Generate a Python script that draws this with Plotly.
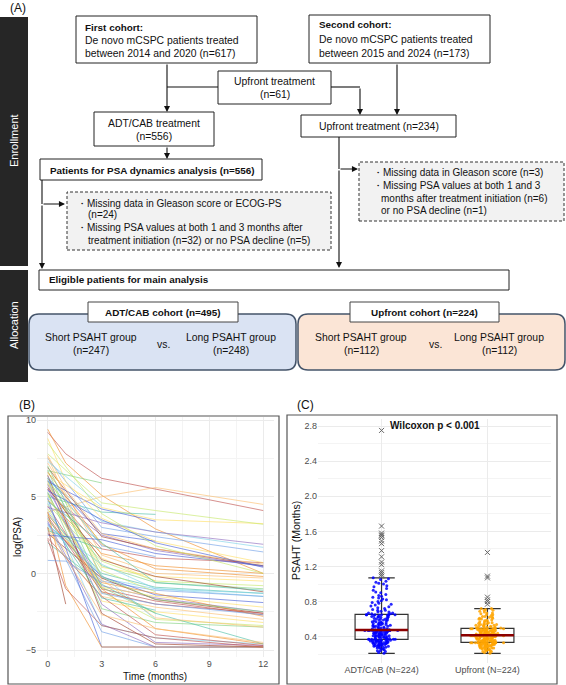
import numpy as np
import plotly.graph_objects as go

W, H = 566, 685
FONT = "Arial, Liberation Sans, sans-serif"

# ── Panel B: log(PSA) trajectories (time in months) ─────────────────────────
PSA_TIMES = [
    [0, 1, 3, 6, 12], [0, 1, 3, 6, 12], [0, 3, 6, 12], [0, 3, 6, 12], [0, 3, 6, 12],
    [0, 3], [0, 3, 6], [0, 3, 6, 12], [0, 3, 6, 12], [0, 3, 6],
    [0, 3, 6, 12], [0, 3, 6, 12], [0, 3, 6, 12], [0, 3, 6, 12], [0, 3, 6, 12],
    [0, 3, 6, 12], [0, 3, 6, 12], [0, 3, 6, 12], [0, 3, 6, 12], [0, 3, 6, 12],
    [0, 3, 6, 12], [0, 3, 6, 12], [0, 3, 6, 12], [0, 3, 6, 12], [0, 3, 6, 12],
    [0, 3, 6, 12], [0, 3, 6, 12], [0, 3, 6, 12], [0, 3, 6, 12], [0, 3, 6, 12],
    [0, 3, 6, 12], [0, 3, 6, 12], [0, 3, 6, 12], [0, 3, 6, 12], [0, 3, 6, 12],
    [0, 3, 6, 12], [0, 3, 6, 12], [0, 3, 6, 12], [0, 3, 6, 12], [0, 3, 6],
    [0, 3, 6], [0, 3, 6], [0, 3, 6], [0, 3, 6], [0, 3, 6],
    [0, 3, 6], [0, 3, 6], [0, 1], [0, 1, 3, 6, 12], [0, 1, 3, 6, 12],
    [0, 1, 3, 6, 12], [0, 1, 3, 6, 12], [0, 3], [0, 3], [0, 3],
    [0, 3], [0, 1, 3], [0, 3, 6, 12], [0, 3, 6, 12], [0, 3, 6, 12],
    [0, 3, 6, 12], [0, 3, 6, 12], [0, 3, 6, 12], [0, 3, 6, 12], [0, 3, 6, 12],
    [0, 3, 6, 12], [0, 3, 6, 12], [0, 3, 6, 12], [0, 3, 6, 12], [0, 3, 6, 12],
]
PSA_LOG = [
    [9.2, 7.8, 6.2, 5.5, 4.1], [9.4, 7.2, 5.1, 2.9, 0.0], [4.0, 5.0, 5.6, 4.5], [6.5, 4.3, 3.5, 3.25], [7.8, 4.6, 4.1, 3.2],
    [6.7, 5.9], [5.0, 4.0, 3.85], [6.0, 3.4, 2.7, 1.7], [7.5, 3.0, 2.4, 1.4], [6.2, 2.6, 2.1],
    [5.2, 2.5, 1.5, 0.45], [6.9, 2.4, 1.6, 0.5], [5.5, 1.6, 1.0, 0.7], [4.8, 1.3, 0.5, 0.0], [7.2, 1.2, 0.0, -0.3],
    [5.8, 0.4, -0.2, -0.5], [4.5, 0.8, -0.5, -0.8], [6.2, 0.5, -0.6, -1.0], [3.8, 0.0, -0.9, -1.3], [5.0, -0.3, -1.0, -1.5],
    [4.0, -0.5, -1.1, -1.5], [3.2, -0.2, -1.4, -1.9], [5.5, -0.8, -1.6, -2.5], [2.6, -0.3, -1.7, -2.6], [4.4, -1.0, -1.8, -2.7],
    [3.5, -0.6, -1.3, -2.8], [6.0, -1.5, -2.2, -3.0], [3.0, -1.8, -2.5, -3.2], [4.2, -1.2, -3.0, -3.4], [5.3, -2.3, -3.2, -3.5],
    [2.0, -0.7, -2.6, -4.6], [4.6, -3.4, -4.2, -4.6], [3.3, -3.8, -4.8, -4.8], [4.9, -4.8, -4.8, -4.8], [5.8, -2.0, -4.5, -4.7],
    [6.4, -2.6, -4.6, -4.8], [2.3, -1.5, -4.0, -4.7], [3.9, -1.0, -3.6, -4.6], [7.6, -0.4, -2.9, -3.5], [4.8, 1.0, -0.5],
    [5.9, 0.2, -1.2], [6.7, -0.9, -2.6], [3.6, -1.6, -2.4], [3.0, -0.1, -3.0], [6.3, 1.8, 1.1],
    [6.0, 4.2, 3.4], [3.4, -3.3, -4.8], [3.0, -2.0], [2.2, -1.0, -3.4, -4.2, -4.8], [4.0, -0.8, -4.8, -4.8, -4.8],
    [7.7, 5.5, 2.6, 1.6, 0.6], [8.8, 6.0, 3.6, 2.1, 0.7], [6.0, 2.0], [5.2, -1.0], [2.8, 1.6],
    [7.3, 4.4], [0.85, 0.8, -0.6], [2.5, 2.2, 1.3, 0.5], [4.3, 3.3, 2.7, 1.9], [5.6, 0.9, -0.2, -1.2],
    [3.7, -1.2, -2.0, -2.6], [6.6, 1.9, 0.3, -0.2], [2.9, -2.7, -3.6, -4.5], [5.1, -0.9, -1.5, -2.2], [8.5, 3.9, 1.8, 0.0],
    [7.0, -0.2, -1.7, -2.5], [4.7, 2.0, -0.6, -1.1], [3.1, 0.6, -1.0, -1.3], [6.1, -1.3, -2.0, -2.7], [5.4, 3.5, 2.0, 0.4],
]
B_XTICKS = [0, 3, 6, 9, 12]
B_YTICKS = [-5, 0, 5, 10]

# ── Panel C: PSAHT (months) ──────────────────────────────────────────────────
C_LABELS = ["ADT/CAB (N=224)", "Upfront (N=224)"]
ADT_INLIERS = [
    0.21, 0.22, 0.23, 0.24, 0.24, 0.25, 0.26, 0.26, 0.27, 0.27,
    0.28, 0.28, 0.28, 0.29, 0.29, 0.29, 0.30, 0.30, 0.30, 0.30,
    0.31, 0.31, 0.31, 0.31, 0.32, 0.32, 0.32, 0.32, 0.32, 0.33,
    0.33, 0.33, 0.33, 0.33, 0.34, 0.34, 0.34, 0.34, 0.34, 0.35,
    0.35, 0.35, 0.35, 0.35, 0.35, 0.36, 0.36, 0.36, 0.36, 0.36,
    0.36, 0.37, 0.37, 0.37, 0.37, 0.37,
    0.37, 0.37, 0.38, 0.38, 0.38, 0.38, 0.39, 0.39, 0.39, 0.39,
    0.40, 0.40, 0.40, 0.40, 0.40, 0.41, 0.41, 0.41, 0.41, 0.41,
    0.42, 0.42, 0.42, 0.42, 0.43, 0.43, 0.43, 0.43, 0.43, 0.44,
    0.44, 0.44, 0.44, 0.45, 0.45, 0.45, 0.45, 0.45, 0.46, 0.46,
    0.46, 0.46, 0.46, 0.47, 0.47, 0.47, 0.47, 0.47, 0.47, 0.47,
    0.47, 0.47, 0.47, 0.47, 0.47, 0.47,
    0.48, 0.48, 0.48, 0.49, 0.49, 0.49, 0.50, 0.50, 0.50, 0.51,
    0.51, 0.51, 0.52, 0.52, 0.52, 0.53, 0.53, 0.53, 0.54, 0.54,
    0.54, 0.55, 0.55, 0.55, 0.56, 0.56, 0.56, 0.57, 0.57, 0.57,
    0.58, 0.58, 0.59, 0.59, 0.59, 0.60, 0.60, 0.60, 0.61, 0.61,
    0.62, 0.62, 0.62, 0.63, 0.63, 0.63, 0.64, 0.64, 0.64, 0.65,
    0.65, 0.65, 0.65, 0.65, 0.65, 0.65,
    0.66, 0.66, 0.67, 0.67, 0.68, 0.68, 0.69, 0.70, 0.70, 0.71,
    0.72, 0.73, 0.74, 0.75, 0.76, 0.77, 0.78, 0.79, 0.80, 0.81,
    0.82, 0.83, 0.84, 0.85, 0.86, 0.87, 0.88, 0.90, 0.91, 0.93,
    0.95, 0.97, 0.98, 1.00, 1.01, 1.02, 1.03, 1.05, 1.06, 1.07,
]
ADT_OUTLIERS = [1.09, 1.11, 1.13, 1.15, 1.22, 1.25, 1.31, 1.38,
                1.46, 1.49, 1.53, 1.55, 1.56, 1.58, 1.66, 2.75]
UP_INLIERS = [
    0.21, 0.22, 0.23, 0.23, 0.24, 0.24, 0.25, 0.25, 0.25, 0.26,
    0.26, 0.26, 0.27, 0.27, 0.27, 0.27, 0.28, 0.28, 0.28, 0.28,
    0.29, 0.29, 0.29, 0.29, 0.29, 0.30, 0.30, 0.30, 0.30, 0.30,
    0.31, 0.31, 0.31, 0.31, 0.31, 0.31, 0.32, 0.32, 0.32, 0.32,
    0.32, 0.32, 0.32, 0.33, 0.33, 0.33, 0.33, 0.33, 0.33, 0.33,
    0.33, 0.33, 0.33, 0.33, 0.33, 0.33,
    0.34, 0.34, 0.34, 0.34, 0.34, 0.35, 0.35, 0.35, 0.35, 0.35,
    0.35, 0.36, 0.36, 0.36, 0.36, 0.36, 0.36, 0.37, 0.37, 0.37,
    0.37, 0.37, 0.37, 0.38, 0.38, 0.38, 0.38, 0.38, 0.38, 0.39,
    0.39, 0.39, 0.39, 0.39, 0.39, 0.40, 0.40, 0.40, 0.40, 0.40,
    0.40, 0.41, 0.41, 0.41, 0.41, 0.41, 0.41, 0.41, 0.41, 0.41,
    0.41, 0.41, 0.41, 0.41, 0.41, 0.41,
    0.42, 0.42, 0.42, 0.42, 0.42, 0.42, 0.42, 0.43, 0.43, 0.43,
    0.43, 0.43, 0.43, 0.43, 0.44, 0.44, 0.44, 0.44, 0.44, 0.44,
    0.44, 0.45, 0.45, 0.45, 0.45, 0.45, 0.45, 0.46, 0.46, 0.46,
    0.46, 0.46, 0.46, 0.47, 0.47, 0.47, 0.47, 0.47, 0.47, 0.48,
    0.48, 0.48, 0.48, 0.48, 0.48, 0.49, 0.49, 0.49, 0.49, 0.49,
    0.49, 0.49, 0.49, 0.49, 0.49, 0.49,
    0.50, 0.50, 0.50, 0.50, 0.51, 0.51, 0.51, 0.51, 0.52, 0.52,
    0.52, 0.53, 0.53, 0.53, 0.54, 0.54, 0.54, 0.55, 0.55, 0.55,
    0.56, 0.56, 0.57, 0.57, 0.58, 0.58, 0.59, 0.59, 0.60, 0.60,
    0.61, 0.61, 0.62, 0.62, 0.63, 0.63, 0.64, 0.65, 0.65, 0.66,
    0.67, 0.67, 0.68, 0.69, 0.70, 0.70, 0.71, 0.72, 0.72,
]
UP_OUTLIERS = [0.77, 0.80, 0.82, 0.85, 1.07, 1.09, 1.36]
C_YTICKS = [0.4, 0.8, 1.2, 1.6, 2.0, 2.4, 2.8]
C_YMINOR = [0.2, 0.6, 1.0, 1.4, 1.8, 2.2, 2.6]

# ── styles ───────────────────────────────────────────────────────────────────
LINE_PALETTE = ["#c0504d", "#f28e2b", "#fdbf6f", "#ffe066", "#c7e96b", "#7fd17f",
                "#4fc1a8", "#7fd3ea", "#6f9fe8", "#4a62d8", "#8e6cc0", "#a0402a"]
GRID_MAJOR = "#ebebeb"
GRID_MINOR = "#f4f4f4"
TICK_COLOR = "#4d4d4d"
SIDEBAR = "#262626"
BLUE_FILL = "#dae3f3"
PEACH_FILL = "#fbe5d6"
ROUND_LINE = "#44546a"
DASH_FILL = "#f2f2f2"
FS = 10.4    # regular flow-chart text
FSB = 9.9    # bold flow-chart text
FSD = 10     # dashed-box text


def px(x):
    return x / W


def py(y):
    return 1 - y / H


shapes = []
annotations = []


def rect(x0, y0, x1, y1, fill="white", color="#222", width=1, dash=None):
    shapes.append(dict(type="rect", xref="paper", yref="paper",
                       x0=px(x0), x1=px(x1), y0=py(y1), y1=py(y0),
                       fillcolor=fill, line=dict(color=color, width=width, dash=dash)))


def rounded(x0, y0, x1, y1, r, fill, color):
    P = lambda x, y: f"{px(x):.5f},{py(y):.5f}"
    path = (f"M {P(x0 + r, y0)} L {P(x1 - r, y0)} Q {P(x1, y0)} {P(x1, y0 + r)} "
            f"L {P(x1, y1 - r)} Q {P(x1, y1)} {P(x1 - r, y1)} "
            f"L {P(x0 + r, y1)} Q {P(x0, y1)} {P(x0, y1 - r)} "
            f"L {P(x0, y0 + r)} Q {P(x0, y0)} {P(x0 + r, y0)} Z")
    shapes.append(dict(type="path", xref="paper", yref="paper", path=path,
                       fillcolor=fill, line=dict(color=color, width=1.5)))


def seg(x0, y0, x1, y1):
    shapes.append(dict(type="line", xref="paper", yref="paper",
                       x0=px(x0), y0=py(y0), x1=px(x1), y1=py(y1),
                       line=dict(color="#111", width=1.1)))


def arrow(x0, y0, x1, y1):
    annotations.append(dict(xref="paper", yref="paper", x=px(x1), y=py(y1),
                            ax=x0 - x1, ay=y0 - y1, axref="pixel", ayref="pixel",
                            text="", showarrow=True, arrowhead=2, arrowsize=1.1,
                            arrowwidth=1.1, arrowcolor="#111", standoff=0))


def text(x, y, s, anchor="center", size=FS, bold=False, color="#111", angle=0):
    annotations.append(dict(xref="paper", yref="paper", x=px(x), y=py(y),
                            text=f"<b>{s}</b>" if bold else s, showarrow=False,
                            xanchor=anchor, yanchor="middle", textangle=angle,
                            font=dict(family=FONT, size=size, color=color)))


# ── (A) flow chart ───────────────────────────────────────────────────────────
text(8, 8, "(A)", anchor="left", size=12)
rect(0, 17, 28, 266, fill=SIDEBAR, color=SIDEBAR, width=0)
rect(0, 270, 28, 382, fill=SIDEBAR, color=SIDEBAR, width=0)
text(14, 141, "Enrollment", size=11, color="white", angle=-90)
text(14, 325, "Allocation", size=11, color="white", angle=-90)

rect(76, 16, 257, 63)
text(83, 27, "First cohort:", anchor="left", bold=True, size=FSB)
text(83, 40, "De novo mCSPC patients treated", anchor="left")
text(83, 53, "between 2014 and 2020 (n=617)", anchor="left")

rect(309, 15, 490, 63)
text(317, 25, "Second cohort:", anchor="left", bold=True, size=FSB)
text(317, 39, "De novo mCSPC patients treated", anchor="left")
text(317, 53, "between 2015 and 2024 (n=173)", anchor="left")

rect(218, 71, 331, 104)
text(274.5, 82, "Upfront treatment")
text(274.5, 95, "(n=61)")
seg(167, 87, 218, 87)
arrow(167, 63, 167, 112)
seg(331, 87, 360, 87)
arrow(360, 87, 360, 115)
arrow(397, 63, 397, 115)

rect(94, 112, 214, 146)
text(154, 123, "ADT/CAB treatment")
text(154, 137, "(n=556)")
rect(301, 115, 456, 137)
text(378.5, 126, "Upfront treatment (n=234)")

arrow(167, 146, 167, 159)
rect(40, 159, 262, 180)
text(48, 170, "Patients for PSA dynamics analysis (n=556)", anchor="left", bold=True, size=FSB)

seg(42, 180, 42, 204)
arrow(42, 204, 42, 269)
arrow(42, 204, 65, 204)
rect(67, 192, 331, 250, fill=DASH_FILL, color="#333", dash="3px,2px")
text(75, 203, "・Missing data in Gleason score or ECOG-PS", anchor="left", size=FSD)
text(86, 215, "(n=24)", anchor="left", size=FSD)
text(75, 227, "・Missing PSA values at both 1 and 3 months after", anchor="left", size=FSD)
text(86, 240, "treatment initiation (n=32) or no PSA decline (n=5)", anchor="left", size=FSD)

seg(339, 137, 339, 169)
arrow(339, 169, 339, 268)
arrow(339, 169, 358, 169)
rect(359, 162, 564, 221, fill=DASH_FILL, color="#333", dash="3px,2px")
text(371, 173, "・Missing data in Gleason score (n=3)", anchor="left", size=FSD)
text(371, 185.5, "・Missing PSA values at both 1 and 3", anchor="left", size=FSD)
text(379, 198, "months after treatment initiation (n=6)", anchor="left", size=FSD)
text(379, 210.5, "or no PSA decline (n=1)", anchor="left", size=FSD)

rect(39, 270, 509, 290)
text(47, 280, "Eligible patients for main analysis", anchor="left", bold=True, size=FSB)

rounded(29, 314, 296, 370, 10, BLUE_FILL, ROUND_LINE)
rounded(298, 314, 565, 370, 10, PEACH_FILL, ROUND_LINE)
rect(88, 302, 238, 322, color="#444")
text(163, 312, "ADT/CAB cohort (n=495)", bold=True, size=FSB)
rect(350, 302, 499, 322, color="#444")
text(424.5, 312, "Upfront cohort (n=224)", bold=True, size=FSB)

for cx, n in [(91, 247), (361, 112)]:
    text(cx, 337, "Short PSAHT group")
    text(cx, 350, f"(n={n})")
for cx, n in [(231, 248), (499, 112)]:
    text(cx, 337, "Long PSAHT group")
    text(cx, 350, f"(n={n})")
text(163, 344, "vs.")
text(435, 344, "vs.")

# ── (B) spaghetti plot ───────────────────────────────────────────────────────
fig = go.Figure()
for i, (t, v) in enumerate(zip(PSA_TIMES, PSA_LOG)):
    fig.add_trace(go.Scatter(
        x=t, y=v, mode="lines", showlegend=False, hoverinfo="skip",
        line=dict(color=LINE_PALETTE[i % len(LINE_PALETTE)], width=0.9),
        opacity=0.7, xaxis="x", yaxis="y",
    ))

text(17, 405, "(B)", anchor="left", size=12)
rect(8, 416, 279, 684, fill="rgba(0,0,0,0)", color="#555", width=1.2)
text(155, 676, "Time (months)", size=10)
text(17, 537, "log(PSA)", size=10, angle=-90)

# ── (C) box plot with jitter ─────────────────────────────────────────────────
BOX_W = 0.5
for pos, (inl, outl, col) in enumerate([(ADT_INLIERS, ADT_OUTLIERS, "#0000ff"),
                                        (UP_INLIERS, UP_OUTLIERS, "#ffa500")], start=1):
    allv = inl + outl
    fig.add_trace(go.Box(
        y=allv, x0=pos, width=BOX_W, boxpoints="outliers", pointpos=0, jitter=0,
        fillcolor="rgba(0,0,0,0)", line=dict(color="#333", width=1.2),
        marker=dict(symbol="x-thin", size=5, color="#666", line=dict(color="#666", width=1)),
        showlegend=False, hoverinfo="skip", xaxis="x2", yaxis="y2",
    ))
    # jitter per quartile band so that the spread stays even (ggplot-like)
    q1, med, q3 = np.percentile(allv, [25, 50, 75])
    edges = [-np.inf, q1, med, q3, np.inf]
    for lo, hi in zip(edges[:-1], edges[1:]):
        band = [v for v in inl if lo < v <= hi]
        fig.add_trace(go.Box(
            y=band, x0=pos, width=BOX_W, boxpoints="all", pointpos=0, jitter=0.65,
            fillcolor="rgba(0,0,0,0)", line=dict(color="rgba(0,0,0,0)", width=0),
            marker=dict(symbol="circle", size=3, color=col, opacity=0.85),
            showlegend=False, hoverinfo="skip", xaxis="x2", yaxis="y2",
        ))
    fig.add_trace(go.Scatter(
        x=[pos - BOX_W / 2, pos + BOX_W / 2], y=[med, med], mode="lines",
        line=dict(color="#8b0000", width=2.5), showlegend=False, hoverinfo="skip",
        xaxis="x2", yaxis="y2",
    ))

text(295, 405, "(C)", anchor="left", size=12)
rect(287, 415, 557, 684, fill="rgba(0,0,0,0)", color="#555", width=1.2)
text(434.5, 426, "Wilcoxon p < 0.001", size=10, bold=True)
text(296, 541, "PSAHT (Months)", size=10.5, angle=-90)

axis_common = dict(showline=False, zeroline=False, ticks="", gridcolor=GRID_MAJOR,
                   gridwidth=1, automargin=False,
                   tickfont=dict(family=FONT, size=9, color=TICK_COLOR))

fig.update_layout(
    width=W, height=H, margin=dict(l=0, r=0, t=0, b=0, autoexpand=False),
    paper_bgcolor="white", plot_bgcolor="white",
    font=dict(family=FONT, color="#111"),
    showlegend=False, boxmode="overlay",
    xaxis=dict(domain=[37 / W, 274 / W], range=[-0.6, 12.6], tickvals=B_XTICKS,
               minor=dict(tickvals=[1.5, 4.5, 7.5, 10.5], showgrid=True,
                          gridcolor=GRID_MINOR, gridwidth=0.6),
               anchor="y", **axis_common),
    yaxis=dict(domain=[1 - 657 / H, 1 - 417 / H], range=[-5.45, 10.2], tickvals=B_YTICKS,
               minor=dict(tickvals=[-2.5, 2.5, 7.5], showgrid=True,
                          gridcolor=GRID_MINOR, gridwidth=0.6),
               anchor="x", **axis_common),
    xaxis2=dict(domain=[318 / W, 551 / W], range=[0.4, 2.6], tickvals=[1, 2],
                ticktext=C_LABELS, anchor="y2", **axis_common),
    yaxis2=dict(domain=[1 - 663 / H, 1 - 419 / H], range=[0.1, 2.88], tickvals=C_YTICKS,
                tickformat=".1f",
                minor=dict(tickvals=C_YMINOR, showgrid=True, gridcolor=GRID_MINOR, gridwidth=0.6),
                anchor="x2", **axis_common),
    shapes=shapes,
    annotations=annotations,
)

# the page has a default 8px body margin; remove it so the figure fills the window
fig.write_html("out.html", config={"displayModeBar": False},
               post_script="document.body.style.margin='0';")
